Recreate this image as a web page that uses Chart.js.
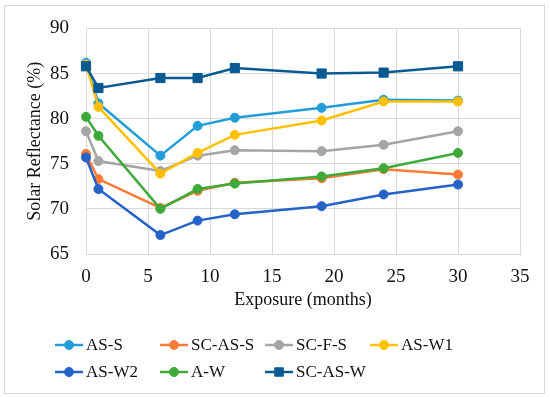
<!DOCTYPE html>
<html>
<head>
<meta charset="utf-8">
<script src="https://cdn.jsdelivr.net/npm/chart.js@4/dist/chart.umd.min.js"></script>
<style>
  body { margin: 0; background: #fff; }
  canvas { display: block; }
</style>
</head>
<body>
<canvas id="myChart" width="550" height="397"></canvas>
<script>
// data
const months = [0, 1, 6, 9, 12, 19, 24, 30];
const series_names = ['AS-S', 'SC-AS-S', 'SC-F-S', 'AS-W1', 'AS-W2', 'A-W', 'SC-AS-W'];
const as_s    = [86.2, 81.7, 75.9, 79.2, 80.1, 81.2, 82.1, 82.0];
const sc_as_s = [76.1, 73.3, 70.1, 72.0, 72.9, 73.4, 74.4, 73.8];
const sc_f_s  = [78.6, 75.3, 74.2, 75.9, 76.5, 76.4, 77.1, 78.6];
const as_w1   = [86.0, 81.3, 73.9, 76.2, 78.2, 79.8, 81.9, 81.9];
const as_w2   = [75.7, 72.2, 67.1, 68.7, 69.4, 70.3, 71.6, 72.7];
const a_w     = [80.2, 78.1, 70.0, 72.2, 72.8, 73.6, 74.5, 76.2];
const sc_as_w = [85.8, 83.4, 84.5, 84.5, 85.6, 85.0, 85.1, 85.8];
const x_ticks = [0, 5, 10, 15, 20, 25, 30, 35];
const y_ticks = [65, 70, 75, 80, 85, 90];

const all_values = [as_s, sc_as_s, sc_f_s, as_w1, as_w2, a_w, sc_as_w];
const colors = ['#229DD9', '#FF7B35', '#A5A5A5', '#FFC000', '#2563C8', '#3DAA3A', '#0A5A92'];
const styles = ['circle', 'circle', 'circle', 'circle', 'circle', 'circle', 'rect'];

const fam = 'Liberation Serif';
const grid_col = '#D9D9D9';

//setup block
const datasets = all_values.map((vals, i) => ({
    label: series_names[i],
    data: vals.map((v, j) => ({x: months[j], y: v})),
    borderColor: colors[i],
    backgroundColor: colors[i],
    pointBackgroundColor: colors[i],
    pointBorderColor: colors[i],
    pointStyle: styles[i],
    pointRadius: styles[i] === 'rect' ? 6.5 : 4.5,
    pointBorderWidth: 1,
    borderWidth: 2.5,
    tension: 0,
    clip: false,
    order: all_values.length - i   // later series on top, like the original
}));

// frame round the whole figure
const framePlugin = {
    id: 'frame',
    beforeDraw(chart) {
        const ctx = chart.ctx;
        ctx.save();
        ctx.fillStyle = '#fff';
        ctx.fillRect(0, 0, chart.width, chart.height);
        ctx.strokeStyle = grid_col;
        ctx.lineWidth = 1;
        ctx.strokeRect(4.5, 5.5, 540, 388);
        ctx.restore();
    }
};

// grid-style legend (4 columns) under the axis
const legendPlugin = {
    id: 'gridLegend',
    afterDraw(chart) {
        const ctx = chart.ctx;
        ctx.save();
        chart.data.datasets.forEach((ds, i) => {
            const col = i % 4, row = Math.floor(i / 4);
            const x0 = 55 + col * 105;
            const y = 345 + row * 27;
            ctx.strokeStyle = ds.borderColor;
            ctx.lineWidth = 2.5;
            ctx.beginPath();
            ctx.moveTo(x0, y);
            ctx.lineTo(x0 + 28, y);
            ctx.stroke();
            ctx.fillStyle = ds.borderColor;
            ctx.strokeStyle = ds.borderColor;
            ctx.lineWidth = 1;
            Chart.helpers.drawPoint(ctx, {
                pointStyle: ds.pointStyle,
                radius: ds.pointStyle === 'rect' ? 6 : 4.5,
                rotation: 0,
                borderWidth: 1
            }, x0 + 14, y);
            ctx.fillStyle = '#111';
            ctx.font = '17px "' + fam + '"';
            ctx.textAlign = 'left';
            ctx.textBaseline = 'middle';
            ctx.fillText(ds.label, x0 + 31, y + 1);
        });
        ctx.restore();
    }
};

//config block
const config = {
    type: 'line',
    data: { datasets: datasets },
    options: {
        responsive: false,
        animation: false,
        devicePixelRatio: 1,
        layout: { padding: { left: 0, top: 23, right: 30, bottom: 83 } },
        plugins: {
            legend: { display: false },
            tooltip: { enabled: false }
        },
        scales: {
            x: {
                type: 'linear',
                min: 0, max: 35,
                afterBuildTicks: s => { s.ticks = x_ticks.map(v => ({value: v})); },
                afterFit: s => { s.height = 60; },
                grid: { color: grid_col, drawTicks: false },
                border: { color: grid_col },
                ticks: { padding: 12, color: '#111', font: { family: fam, size: 19 } },
                title: {
                    display: true, text: 'Exposure (months)', color: '#111',
                    font: { family: fam, size: 18 }, padding: { top: 0, bottom: 3 }
                }
            },
            y: {
                min: 65, max: 90,
                afterBuildTicks: s => { s.ticks = y_ticks.map(v => ({value: v})); },
                afterFit: s => { s.width = 86; },
                grid: { color: grid_col, drawTicks: false },
                border: { color: grid_col },
                ticks: { padding: 17, color: '#111', font: { family: fam, size: 19 } },
                title: {
                    display: true, text: 'Solar Reflectance (%)', color: '#111',
                    font: { family: fam, size: 18 }, padding: { top: 24, bottom: 0 }
                }
            }
        }
    },
    plugins: [framePlugin, legendPlugin]
};

//render block
const myChart = new Chart(
    document.getElementById('myChart').getContext('2d'),
    config
);
</script>
</body>
</html>
